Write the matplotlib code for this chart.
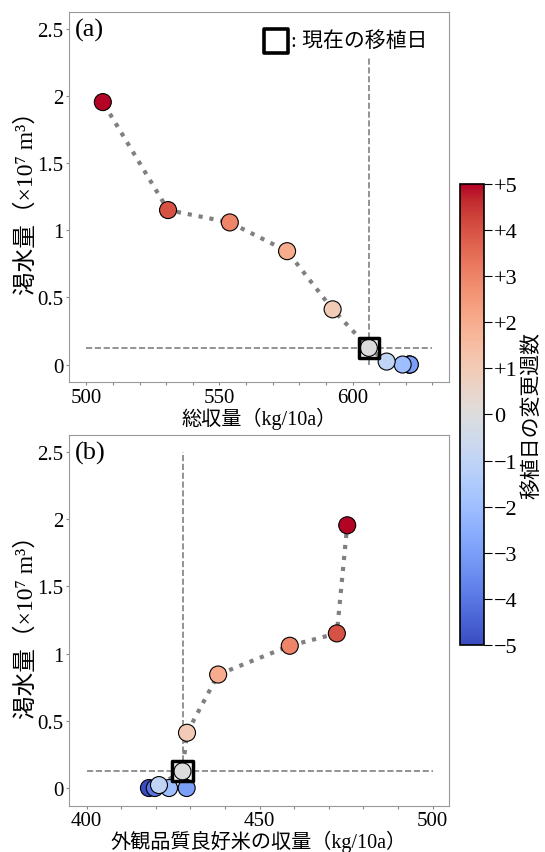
import numpy as np
import matplotlib
matplotlib.use('Agg')
from matplotlib import pyplot as plt
from matplotlib.ticker import MultipleLocator

plt.rcParams['font.family'] = ['Liberation Serif', 'Noto Sans CJK JP', 'DejaVu Serif']
plt.rcParams['axes.unicode_minus'] = True

weeks = [-5, -4, -3, -2, -1, 0, 1, 2, 3, 4, 5]
# 総収量 (kg/10a)
total_yield = [621.3, 621.4, 621.5, 618.8, 612.8, 606.1, 592.5, 575.4, 553.9, 530.7, 506.2]
# 外観品質良好米の収量 (kg/10a)
good_yield = [418.0, 419.7, 428.9, 423.8, 420.9, 427.7, 429.0, 438.0, 458.7, 472.3, 475.3]
# 渇水量 (x10^7 m3)
drought = [0.0, 0.0, 0.0, 0.0, 0.022, 0.124, 0.411, 0.844, 1.058, 1.15, 1.954]

cb_ticks = [-5, -4, -3, -2, -1, 0, 1, 2, 3, 4, 5]
cb_labels = ['\u22125', '\u22124', '\u22123', '\u22122', '\u22121', '0',
             '+1', '+2', '+3', '+4', '+5']

fig = plt.figure(figsize=(5.45, 8.53), dpi=100)
ax_a = fig.add_axes([0.1266, 0.551, 0.6972, 0.4338])
ax_b = fig.add_axes([0.1266, 0.0545, 0.6972, 0.4343])
cax = fig.add_axes([0.844, 0.2428, 0.044, 0.5404])

cmap = plt.get_cmap('coolwarm')
norm = matplotlib.colors.Normalize(vmin=-5, vmax=5)
now = weeks.index(0)


def draw(ax, xs, xlim, hline, vtop, label, tag):
    ax.plot(xs, drought, ':', color='gray', lw=3, zorder=1)
    sc = ax.scatter(xs, drought, c=weeks, cmap=cmap, norm=norm, s=150,
                    edgecolors='black', linewidths=0.8, zorder=3)
    ax.scatter([xs[now]], [drought[now]], marker='s', s=210, facecolors='none',
               edgecolors='black', linewidths=2.5, zorder=4)
    ax.plot(hline, [drought[now], drought[now]], '--', color='gray', lw=1.2, zorder=2)
    ax.plot([xs[now], xs[now]], [0, vtop], '--', color='gray', lw=1.2, zorder=2)
    ax.set_xlim(*xlim)
    ax.set_ylim(-0.13, 2.625)
    ax.xaxis.set_major_locator(MultipleLocator(50))
    ax.xaxis.set_minor_locator(MultipleLocator(10))
    ax.set_yticks([0, 0.5, 1, 1.5, 2, 2.5])
    ax.set_yticklabels(['0', '0.5', '1', '1.5', '2', '2.5'])
    ax.tick_params(which='both', direction='out', length=2.5, width=0.8,
                   color='#888888', labelsize=15, pad=1.5)
    for sp in ax.spines.values():
        sp.set_color('#999999')
    ax.set_xlabel(label, fontsize=14.5, labelpad=0)
    ax.set_ylabel('渇水量（×10⁷ m³）', fontsize=17, labelpad=0)
    ax.text(0.015, 0.985, tag, transform=ax.transAxes, fontsize=19,
            ha='left', va='top')
    return sc


sc = draw(ax_a, total_yield, (493.5, 636.2), [500, 630], 2.3,
          '総収量（kg/10a）', '(a)')
draw(ax_b, good_yield, (394.9, 504.7), [400, 500], 2.5,
     '外観品質良好米の収量（kg/10a）', '(b)')

# legend for the current transplant date
ax_a.scatter([571.2], [2.41], marker='s', s=290, facecolors='white',
             edgecolors='black', linewidths=2.6, zorder=5)
ax_a.text(577.0, 2.41, ': 現在の移植日', fontsize=15, ha='left', va='center')

cb = fig.colorbar(sc, cax=cax)
cb.set_ticks(cb_ticks)
cb.set_ticklabels(cb_labels)
cb.outline.set_linewidth(1.2)
cax.tick_params(labelsize=16, length=6, width=0.8, pad=1)
cb.set_label('移植日の変更週数', fontsize=15, labelpad=4)

fig.savefig('out.png', dpi=100)
